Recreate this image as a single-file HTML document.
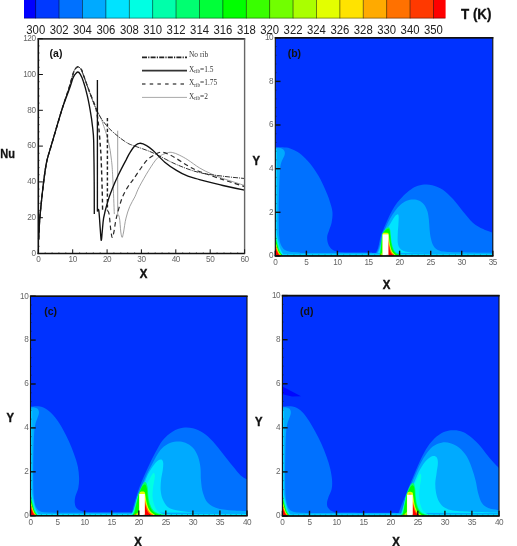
<!DOCTYPE html>
<html><head><meta charset="utf-8"><title>figure</title><style>html,body{margin:0;padding:0;background:#fff}svg{display:block}</style></head><body>
<svg width="517" height="546" viewBox="0 0 517 546">
<rect width="517" height="546" fill="#fff"/>
<rect x="24.0" y="0" width="12.0" height="18.3" fill="#0000ff"/>
<rect x="35.7" y="0" width="23.7" height="18.3" fill="#0039ff"/>
<rect x="59.1" y="0" width="23.7" height="18.3" fill="#0071ff"/>
<rect x="82.5" y="0" width="23.7" height="18.3" fill="#00aaff"/>
<rect x="105.9" y="0" width="23.7" height="18.3" fill="#00e3ff"/>
<rect x="129.3" y="0" width="23.7" height="18.3" fill="#00ffe3"/>
<rect x="152.7" y="0" width="23.7" height="18.3" fill="#00ffaa"/>
<rect x="176.1" y="0" width="23.7" height="18.3" fill="#00ff71"/>
<rect x="199.5" y="0" width="23.7" height="18.3" fill="#00ff39"/>
<rect x="222.9" y="0" width="23.7" height="18.3" fill="#00ff00"/>
<rect x="246.3" y="0" width="23.7" height="18.3" fill="#39ff00"/>
<rect x="269.7" y="0" width="23.7" height="18.3" fill="#71ff00"/>
<rect x="293.1" y="0" width="23.7" height="18.3" fill="#aaff00"/>
<rect x="316.5" y="0" width="23.7" height="18.3" fill="#e3ff00"/>
<rect x="339.9" y="0" width="23.7" height="18.3" fill="#ffe300"/>
<rect x="363.3" y="0" width="23.7" height="18.3" fill="#ffaa00"/>
<rect x="386.7" y="0" width="23.7" height="18.3" fill="#ff7100"/>
<rect x="410.1" y="0" width="23.7" height="18.3" fill="#ff3900"/>
<rect x="433.5" y="0" width="12.1" height="18.3" fill="#ff0000"/>
<rect x="35.2" y="0" width="0.9" height="18.3" fill="#000" opacity="0.55"/>
<rect x="58.6" y="0" width="0.9" height="18.3" fill="#000" opacity="0.55"/>
<rect x="82.0" y="0" width="0.9" height="18.3" fill="#000" opacity="0.55"/>
<rect x="105.4" y="0" width="0.9" height="18.3" fill="#000" opacity="0.55"/>
<rect x="128.9" y="0" width="0.9" height="18.3" fill="#000" opacity="0.55"/>
<rect x="152.2" y="0" width="0.9" height="18.3" fill="#000" opacity="0.55"/>
<rect x="175.6" y="0" width="0.9" height="18.3" fill="#000" opacity="0.55"/>
<rect x="199.1" y="0" width="0.9" height="18.3" fill="#000" opacity="0.55"/>
<rect x="222.4" y="0" width="0.9" height="18.3" fill="#000" opacity="0.55"/>
<rect x="245.9" y="0" width="0.9" height="18.3" fill="#000" opacity="0.55"/>
<rect x="269.2" y="0" width="0.9" height="18.3" fill="#000" opacity="0.55"/>
<rect x="292.6" y="0" width="0.9" height="18.3" fill="#000" opacity="0.55"/>
<rect x="316.0" y="0" width="0.9" height="18.3" fill="#000" opacity="0.55"/>
<rect x="339.4" y="0" width="0.9" height="18.3" fill="#000" opacity="0.55"/>
<rect x="362.8" y="0" width="0.9" height="18.3" fill="#000" opacity="0.55"/>
<rect x="386.2" y="0" width="0.9" height="18.3" fill="#000" opacity="0.55"/>
<rect x="409.6" y="0" width="0.9" height="18.3" fill="#000" opacity="0.55"/>
<rect x="433.0" y="0" width="0.9" height="18.3" fill="#000" opacity="0.55"/>
<rect x="24" y="17.7" width="421.3" height="0.8" fill="#000" opacity="0.5"/>
<g font-family="'Liberation Sans',sans-serif" font-size="12.8" fill="#222">
<text x="26.3" y="33.6" textLength="18.9" lengthAdjust="spacingAndGlyphs">300</text>
<text x="49.7" y="33.6" textLength="18.9" lengthAdjust="spacingAndGlyphs">302</text>
<text x="73.0" y="33.6" textLength="18.9" lengthAdjust="spacingAndGlyphs">304</text>
<text x="96.4" y="33.6" textLength="18.9" lengthAdjust="spacingAndGlyphs">306</text>
<text x="119.9" y="33.6" textLength="18.9" lengthAdjust="spacingAndGlyphs">308</text>
<text x="143.2" y="33.6" textLength="18.9" lengthAdjust="spacingAndGlyphs">310</text>
<text x="166.6" y="33.6" textLength="18.9" lengthAdjust="spacingAndGlyphs">312</text>
<text x="190.1" y="33.6" textLength="18.9" lengthAdjust="spacingAndGlyphs">314</text>
<text x="213.4" y="33.6" textLength="18.9" lengthAdjust="spacingAndGlyphs">316</text>
<text x="236.9" y="33.6" textLength="18.9" lengthAdjust="spacingAndGlyphs">318</text>
<text x="260.2" y="33.6" textLength="18.9" lengthAdjust="spacingAndGlyphs">320</text>
<text x="283.6" y="33.6" textLength="18.9" lengthAdjust="spacingAndGlyphs">322</text>
<text x="307.0" y="33.6" textLength="18.9" lengthAdjust="spacingAndGlyphs">324</text>
<text x="330.4" y="33.6" textLength="18.9" lengthAdjust="spacingAndGlyphs">326</text>
<text x="353.8" y="33.6" textLength="18.9" lengthAdjust="spacingAndGlyphs">328</text>
<text x="377.2" y="33.6" textLength="18.9" lengthAdjust="spacingAndGlyphs">330</text>
<text x="400.6" y="33.6" textLength="18.9" lengthAdjust="spacingAndGlyphs">340</text>
<text x="424.0" y="33.6" textLength="18.9" lengthAdjust="spacingAndGlyphs">350</text>
</g>
<text x="461" y="18.9" font-family="'Liberation Sans',sans-serif" font-weight="bold" font-size="14" textLength="30.5" lengthAdjust="spacingAndGlyphs" fill="#111" stroke="#111" stroke-width="0.3">T (K)</text>
<g fill="none" stroke-linejoin="round">
<path d="M38.6,239.2 C38.7,238.2 38.7,237.0 38.9,233.5 C39.1,229.9 39.3,223.8 39.8,218.1 C40.3,212.3 41.1,204.8 41.7,198.7 C42.4,192.6 42.9,187.4 43.7,181.4 C44.5,175.3 45.3,168.3 46.6,162.2 C47.8,156.2 48.9,153.7 51.4,145.0 C54.0,136.4 58.8,119.8 61.7,110.3 C64.6,100.8 67.0,94.2 68.9,88.3 C70.8,82.3 71.9,77.6 72.9,74.5 C73.9,71.4 73.9,70.9 74.7,69.7 C75.6,68.4 76.7,66.8 77.8,66.8 C78.9,66.8 80.4,68.1 81.3,69.5 C82.2,70.8 82.0,71.3 83.3,74.9 C84.7,78.4 87.2,85.7 89.2,91.0 C91.1,96.2 93.2,102.1 95.0,106.4 C96.9,110.6 98.9,113.8 100.2,116.6 C101.4,119.3 101.2,118.7 102.6,122.8 C104.0,126.9 106.9,135.0 108.4,141.3 C109.9,147.5 110.8,153.9 111.5,160.4 C112.3,166.9 112.4,171.2 112.9,180.1 C113.4,189.1 114.1,208.5 114.3,214.1 M117.7,130.7 L117.7,214.1 M117.7,214.1 C118.0,214.7 118.9,214.7 119.4,217.7 C120.0,220.7 120.4,228.7 120.8,232.0 C121.3,235.3 121.7,237.4 122.2,237.4 C122.6,237.4 122.9,235.2 123.6,232.0 C124.2,228.8 124.9,222.3 126.0,218.1 C127.0,213.8 128.3,210.0 129.8,206.4 C131.2,202.9 133.3,200.1 134.9,196.8 C136.5,193.4 137.1,190.9 139.4,186.6 C141.7,182.2 145.6,175.3 148.7,170.4 C151.8,165.6 154.8,160.5 157.9,157.6 C161.0,154.6 164.8,153.7 167.2,152.9 C169.6,152.1 170.4,152.2 172.4,152.5 C174.4,152.9 176.7,153.8 179.3,155.1 C181.8,156.3 184.5,157.7 187.9,159.9 C191.2,162.0 195.6,165.6 199.5,167.9 C203.4,170.3 207.3,172.1 211.2,173.8 C215.1,175.6 217.4,176.6 222.9,178.5 C228.5,180.4 241.0,184.3 244.6,185.5" stroke="#8f8f8f" stroke-width="0.85"/>
<path d="M38.6,239.2 C38.7,238.2 38.7,237.0 38.9,233.5 C39.1,229.9 39.3,223.8 39.8,218.1 C40.3,212.3 41.1,204.8 41.7,198.7 C42.4,192.6 42.9,187.4 43.7,181.4 C44.5,175.3 45.3,168.3 46.6,162.2 C47.8,156.2 48.9,153.7 51.4,145.0 C54.0,136.4 58.8,119.8 61.7,110.3 C64.6,100.8 67.0,94.2 68.9,88.3 C70.8,82.3 71.9,77.6 72.9,74.5 C73.9,71.4 73.9,70.9 74.7,69.7 C75.6,68.4 76.7,66.8 77.8,66.8 C78.9,66.8 80.4,68.1 81.3,69.5 C82.2,70.8 82.0,71.3 83.3,74.9 C84.7,78.4 87.2,85.8 89.2,91.0 C91.1,96.1 93.8,102.3 95.0,105.8 C96.3,109.3 96.1,108.5 96.7,112.1 C97.4,115.7 98.2,121.8 98.8,127.7 C99.4,133.5 100.0,141.5 100.4,147.0 C100.8,152.5 100.9,153.1 101.2,160.4 C101.5,167.7 102.0,182.5 102.2,190.8 C102.5,199.2 102.5,207.3 102.6,210.5" stroke="#222" stroke-width="1.4" stroke-dasharray="4 3"/>
<path d="M107.4,118.0 L107.4,210.5" stroke="#222" stroke-width="1.45" stroke-dasharray="3.2 2.2"/>
<path d="M107.4,210.5 C107.7,211.1 108.5,210.8 109.1,214.1 C109.7,217.4 110.3,226.4 110.8,230.2 C111.4,234.1 111.7,237.1 112.2,237.4 C112.7,237.7 113.2,235.2 113.9,232.0 C114.6,228.8 115.0,223.6 116.3,218.1 C117.7,212.5 120.0,203.9 121.8,198.7 C123.7,193.6 125.9,190.2 127.7,187.1 C129.5,184.0 130.9,182.9 132.8,180.1 C134.8,177.3 137.0,173.8 139.4,170.4 C141.8,167.1 144.6,162.6 147.3,159.9 C150.0,157.2 153.2,155.4 155.5,154.2 C157.9,152.9 159.1,152.1 161.4,152.2 C163.6,152.2 166.4,153.4 168.9,154.5 C171.5,155.6 173.4,156.8 176.5,158.6 C179.7,160.5 184.0,163.6 187.9,165.8 C191.7,167.9 193.7,169.2 199.5,171.5 C205.4,173.8 215.4,177.1 222.9,179.6 C230.4,182.1 241.0,185.4 244.6,186.6" stroke="#2a2a2a" stroke-width="1.2" stroke-dasharray="4.6 3.2"/>
<path d="M38.6,239.2 C38.7,238.2 38.7,237.0 38.9,233.5 C39.1,229.9 39.3,223.8 39.8,218.1 C40.3,212.3 41.1,204.8 41.7,198.7 C42.4,192.6 42.9,187.4 43.7,181.4 C44.5,175.3 45.3,168.3 46.6,162.2 C47.8,156.2 48.9,153.7 51.4,145.0 C54.0,136.4 58.8,119.8 61.7,110.3 C64.6,100.8 67.0,94.2 68.9,88.3 C70.8,82.3 71.9,77.6 72.9,74.5 C73.9,71.4 73.9,70.9 74.7,69.7 C75.6,68.4 76.7,66.8 77.8,66.8 C78.9,66.8 80.4,68.1 81.3,69.5 C82.2,70.8 82.0,71.3 83.3,74.9 C84.7,78.4 87.2,85.7 89.2,91.0 C91.1,96.2 93.1,101.9 95.0,106.4 C97.0,110.9 98.6,114.4 100.9,118.0 C103.1,121.5 105.6,124.6 108.4,127.7 C111.3,130.7 114.9,133.8 118.1,136.4 C121.3,139.0 124.9,141.6 127.7,143.2 C130.5,144.8 130.7,144.5 134.9,146.1 C139.1,147.7 146.2,149.8 153.1,152.9 C160.1,156.0 168.8,161.3 176.5,164.5 C184.2,167.8 191.8,170.7 199.5,172.6 C207.3,174.5 215.4,175.2 222.9,176.2 C230.4,177.2 241.0,178.1 244.6,178.5" stroke="#333" stroke-width="1" stroke-dasharray="5 1 1 1"/>
<path d="M38.6,239.2 C38.7,238.2 38.7,237.0 38.9,233.5 C39.1,229.9 39.3,223.8 39.8,218.1 C40.3,212.3 41.1,204.8 41.7,198.7 C42.4,192.6 42.9,187.4 43.7,181.4 C44.5,175.3 45.3,168.3 46.6,162.2 C47.8,156.2 48.9,153.7 51.4,145.0 C54.0,136.4 58.8,119.4 61.7,110.3 C64.6,101.2 67.0,95.6 68.9,90.3 C70.8,84.9 72.0,80.8 73.0,78.1 C74.1,75.4 74.5,75.2 75.3,74.1 C76.1,73.1 77.0,72.0 77.8,72.0 C78.7,72.0 79.3,72.6 80.2,74.1 C81.2,75.7 82.2,77.8 83.3,81.3 C84.5,84.8 86.0,90.1 87.1,94.9 C88.3,99.7 89.3,105.2 90.2,110.3 C91.1,115.4 91.9,120.5 92.4,125.7 C93.0,130.9 93.4,131.9 93.7,141.3 C93.9,150.6 94.1,169.8 94.2,181.9 C94.3,194.0 94.3,208.8 94.3,214.1 M97.4,79.9 L97.4,211.4 M97.4,211.4 C97.7,211.3 98.4,207.7 98.8,210.5 C99.3,213.4 99.8,223.5 100.2,228.4 C100.6,233.4 100.9,239.7 101.2,240.3 C101.6,240.9 101.8,235.7 102.2,232.0 C102.6,228.3 102.8,223.0 103.6,218.1 C104.5,213.2 106.0,207.5 107.4,202.7 C108.8,197.8 110.4,193.6 112.2,189.1 C114.0,184.5 115.8,180.3 118.1,175.5 C120.4,170.6 124.0,163.8 126.0,160.1 C127.9,156.3 128.3,155.3 129.8,152.9 C131.2,150.5 133.1,147.4 134.9,145.7 C136.7,144.1 138.5,143.3 140.4,143.2 C142.4,143.2 144.5,144.3 146.6,145.6 C148.7,146.8 150.1,147.8 153.1,150.6 C156.2,153.3 160.9,158.9 164.8,162.2 C168.7,165.5 172.7,168.1 176.5,170.4 C180.3,172.8 184.0,174.7 187.9,176.2 C191.7,177.7 193.7,178.0 199.5,179.6 C205.4,181.1 215.4,183.7 222.9,185.5 C230.4,187.2 241.0,189.4 244.6,190.1" stroke="#111" stroke-width="1.35"/>
</g>
<g stroke="#111" fill="none">
<path d="M38.3,254.1 V38.5" stroke-width="1.6"/>
<path d="M37.5,38.8 H245.2" stroke="#333" stroke-width="1.8"/>
<path d="M37.5,253.5 H245.1" stroke-width="1.3"/>
<path d="M244.6,38.5 V253.5" stroke="#666" stroke-width="1.4"/>
<path d="M38.3,253.5 v-4.2" stroke-width="1" opacity="1"/>
<path d="M45.2,253.5 v-1.4" stroke-width="1" opacity="0.45"/>
<path d="M52.1,253.5 v-1.4" stroke-width="1" opacity="0.45"/>
<path d="M58.9,253.5 v-1.4" stroke-width="1" opacity="0.45"/>
<path d="M65.8,253.5 v-1.4" stroke-width="1" opacity="0.45"/>
<path d="M72.7,253.5 v-4.2" stroke-width="1" opacity="1"/>
<path d="M79.6,253.5 v-1.4" stroke-width="1" opacity="0.45"/>
<path d="M86.4,253.5 v-1.4" stroke-width="1" opacity="0.45"/>
<path d="M93.3,253.5 v-1.4" stroke-width="1" opacity="0.45"/>
<path d="M100.2,253.5 v-1.4" stroke-width="1" opacity="0.45"/>
<path d="M107.1,253.5 v-4.2" stroke-width="1" opacity="1"/>
<path d="M113.9,253.5 v-1.4" stroke-width="1" opacity="0.45"/>
<path d="M120.8,253.5 v-1.4" stroke-width="1" opacity="0.45"/>
<path d="M127.7,253.5 v-1.4" stroke-width="1" opacity="0.45"/>
<path d="M134.6,253.5 v-1.4" stroke-width="1" opacity="0.45"/>
<path d="M141.4,253.5 v-4.2" stroke-width="1" opacity="1"/>
<path d="M148.3,253.5 v-1.4" stroke-width="1" opacity="0.45"/>
<path d="M155.2,253.5 v-1.4" stroke-width="1" opacity="0.45"/>
<path d="M162.1,253.5 v-1.4" stroke-width="1" opacity="0.45"/>
<path d="M168.9,253.5 v-1.4" stroke-width="1" opacity="0.45"/>
<path d="M175.8,253.5 v-4.2" stroke-width="1" opacity="1"/>
<path d="M182.7,253.5 v-1.4" stroke-width="1" opacity="0.45"/>
<path d="M189.6,253.5 v-1.4" stroke-width="1" opacity="0.45"/>
<path d="M196.4,253.5 v-1.4" stroke-width="1" opacity="0.45"/>
<path d="M203.3,253.5 v-1.4" stroke-width="1" opacity="0.45"/>
<path d="M210.2,253.5 v-4.2" stroke-width="1" opacity="1"/>
<path d="M217.1,253.5 v-1.4" stroke-width="1" opacity="0.45"/>
<path d="M224.0,253.5 v-1.4" stroke-width="1" opacity="0.45"/>
<path d="M230.8,253.5 v-1.4" stroke-width="1" opacity="0.45"/>
<path d="M237.7,253.5 v-1.4" stroke-width="1" opacity="0.45"/>
<path d="M244.6,253.5 v-4.2" stroke-width="1" opacity="1"/>
<path d="M38.3,253.5 h4.6" stroke-width="1" opacity="1"/>
<path d="M38.3,246.3 h1.6" stroke-width="1" opacity="0.45"/>
<path d="M38.3,239.2 h1.6" stroke-width="1" opacity="0.45"/>
<path d="M38.3,232.0 h1.6" stroke-width="1" opacity="0.45"/>
<path d="M38.3,224.9 h1.6" stroke-width="1" opacity="0.45"/>
<path d="M38.3,217.7 h4.6" stroke-width="1" opacity="1"/>
<path d="M38.3,210.5 h1.6" stroke-width="1" opacity="0.45"/>
<path d="M38.3,203.4 h1.6" stroke-width="1" opacity="0.45"/>
<path d="M38.3,196.2 h1.6" stroke-width="1" opacity="0.45"/>
<path d="M38.3,189.1 h1.6" stroke-width="1" opacity="0.45"/>
<path d="M38.3,181.9 h4.6" stroke-width="1" opacity="1"/>
<path d="M38.3,174.7 h1.6" stroke-width="1" opacity="0.45"/>
<path d="M38.3,167.6 h1.6" stroke-width="1" opacity="0.45"/>
<path d="M38.3,160.4 h1.6" stroke-width="1" opacity="0.45"/>
<path d="M38.3,153.3 h1.6" stroke-width="1" opacity="0.45"/>
<path d="M38.3,146.1 h4.6" stroke-width="1" opacity="1"/>
<path d="M38.3,138.9 h1.6" stroke-width="1" opacity="0.45"/>
<path d="M38.3,131.8 h1.6" stroke-width="1" opacity="0.45"/>
<path d="M38.3,124.6 h1.6" stroke-width="1" opacity="0.45"/>
<path d="M38.3,117.5 h1.6" stroke-width="1" opacity="0.45"/>
<path d="M38.3,110.3 h4.6" stroke-width="1" opacity="1"/>
<path d="M38.3,103.1 h1.6" stroke-width="1" opacity="0.45"/>
<path d="M38.3,96.0 h1.6" stroke-width="1" opacity="0.45"/>
<path d="M38.3,88.8 h1.6" stroke-width="1" opacity="0.45"/>
<path d="M38.3,81.7 h1.6" stroke-width="1" opacity="0.45"/>
<path d="M38.3,74.5 h4.6" stroke-width="1" opacity="1"/>
<path d="M38.3,67.3 h1.6" stroke-width="1" opacity="0.45"/>
<path d="M38.3,60.2 h1.6" stroke-width="1" opacity="0.45"/>
<path d="M38.3,53.0 h1.6" stroke-width="1" opacity="0.45"/>
<path d="M38.3,45.9 h1.6" stroke-width="1" opacity="0.45"/>
<path d="M38.3,38.7 h4.6" stroke-width="1" opacity="1"/>
</g>
<g font-family="'Liberation Sans',sans-serif" font-size="8.2" letter-spacing="-0.45" fill="#666">
<text x="38.3" y="262.3" text-anchor="middle">0</text>
<text x="72.7" y="262.3" text-anchor="middle">10</text>
<text x="107.1" y="262.3" text-anchor="middle">20</text>
<text x="141.4" y="262.3" text-anchor="middle">30</text>
<text x="175.8" y="262.3" text-anchor="middle">40</text>
<text x="210.2" y="262.3" text-anchor="middle">50</text>
<text x="244.6" y="262.3" text-anchor="middle">60</text>
<text x="35.5" y="255.8" text-anchor="end">0</text>
<text x="35.5" y="220.0" text-anchor="end">20</text>
<text x="35.5" y="184.2" text-anchor="end">40</text>
<text x="35.5" y="148.4" text-anchor="end">60</text>
<text x="35.5" y="112.6" text-anchor="end">80</text>
<text x="35.5" y="76.8" text-anchor="end">100</text>
<text x="35.5" y="41.0" text-anchor="end">120</text>
</g>
<text x="49.6" y="56.7" font-family="'Liberation Sans',sans-serif" font-weight="bold" font-size="10.5" fill="#111">(a)</text>
<path d="M142,57.4 H187" stroke="#222" stroke-width="1.8" stroke-dasharray="5 1.2 1.2 1.2" fill="none"/>
<path d="M142,70.6 H187" stroke="#333" stroke-width="1.7" fill="none"/>
<path d="M142,84.1 H187" stroke="#555" stroke-width="1.5" stroke-dasharray="3.5 4.2" fill="none"/>
<path d="M142,97.4 H187" stroke="#999" stroke-width="0.85" fill="none"/>
<g font-family="'Liberation Serif',serif" font-size="7.4" fill="#333">
<text x="189" y="56.9">No rib</text>
<text x="189" y="71.8">X<tspan font-size="5.2" dy="1.3">rib</tspan><tspan dy="-1.3">=1.5</tspan></text>
<text x="189" y="85.3">X<tspan font-size="5.2" dy="1.3">rib</tspan><tspan dy="-1.3">=1.75</tspan></text>
<text x="189" y="98.6">X<tspan font-size="5.2" dy="1.3">rib</tspan><tspan dy="-1.3">=2</tspan></text>
</g>
<text x="0.3" y="157.6" font-family="'Liberation Sans',sans-serif" font-weight="bold" font-size="13.2" textLength="14.7" lengthAdjust="spacingAndGlyphs" fill="#111" stroke="#111" stroke-width="0.3">Nu</text>
<text x="139.8" y="277.8" font-family="'Liberation Sans',sans-serif" font-weight="bold" font-size="13.4" textLength="7.6" lengthAdjust="spacingAndGlyphs" fill="#111" stroke="#111" stroke-width="0.45">X</text>
<clipPath id="clipb"><rect x="275.3" y="37.8" width="217.5" height="218.1"/></clipPath>
<rect x="275.3" y="37.8" width="217.5" height="218.1" fill="#0032ff"/>
<g clip-path="url(#clipb)">
<path d="M275.3,147.2 C276.5,147.2 280.1,147.1 282.6,147.3 C285.1,147.5 287.6,147.6 290.1,148.4 C292.6,149.2 295.2,150.3 297.7,151.9 C300.2,153.5 302.7,155.7 305.2,158.2 C307.7,160.7 310.2,163.5 312.7,167.0 C315.2,170.5 318.0,174.7 320.3,179.0 C322.6,183.3 324.9,188.8 326.6,192.8 C328.3,196.8 329.3,199.6 330.3,202.9 C331.3,206.2 332.3,209.3 332.5,212.6 C332.7,215.9 332.2,219.8 331.6,222.7 C331.0,225.6 329.8,227.9 329.1,230.2 C328.4,232.5 327.4,234.4 327.2,236.5 C327.0,238.6 327.3,240.9 327.8,242.8 C328.3,244.7 329.1,246.4 330.3,247.8 C331.5,249.2 332.6,250.2 335.0,251.0 C337.4,251.8 338.8,252.1 345.0,252.4 C351.2,252.7 367.5,252.6 372.0,252.6 L372.0,256.0 L275.3,256.0Z" fill="#0071ff"/>
<path d="M275.3,147.8 C276.1,147.8 278.7,147.8 280.0,148.0 C281.3,148.2 282.2,148.6 283.0,149.2 C283.8,149.8 284.3,150.7 284.6,151.5 C284.9,152.3 284.9,153.1 284.8,154.0 C284.7,154.9 284.3,155.9 283.8,157.0 C283.3,158.1 282.5,159.2 282.0,160.5 C281.5,161.8 281.0,163.0 280.6,165.0 C280.2,167.0 280.0,169.5 279.8,172.7 C279.6,175.9 279.5,179.9 279.3,184.0 C279.1,188.1 279.0,192.7 278.9,197.0 C278.8,201.3 278.7,205.3 278.7,210.0 C278.7,214.7 278.7,220.3 278.8,225.0 C278.9,229.7 278.9,234.5 279.4,238.0 C279.8,241.5 280.2,243.8 281.5,246.0 C282.8,248.2 283.9,249.9 287.0,251.0 C290.1,252.1 297.8,252.2 300.0,252.5 L300.0,256.0 L275.3,256.0Z" fill="#00aaff"/>
<rect x="275.3" y="149" width="1.7" height="108" fill="#00d0ff"/>
<path d="M374.3,255.5 C374.9,254.4 376.9,251.1 377.8,248.7 C378.7,246.3 379.1,243.1 379.6,241.0 C380.1,238.9 380.2,237.9 380.8,235.9 C381.4,233.9 382.4,231.9 383.5,229.2 C384.6,226.5 386.1,222.9 387.6,219.7 C389.1,216.5 390.7,213.0 392.3,210.2 C393.9,207.4 395.4,205.1 397.1,202.8 C398.8,200.6 400.5,198.7 402.5,196.7 C404.5,194.7 407.1,192.3 409.3,190.6 C411.6,188.9 413.5,187.5 416.0,186.5 C418.5,185.5 421.5,184.7 424.2,184.5 C426.9,184.3 429.2,184.3 432.3,185.2 C435.4,186.1 439.4,187.4 442.9,189.7 C446.3,192.0 449.6,195.4 453.0,199.0 C456.4,202.6 459.6,207.5 463.0,211.5 C466.4,215.5 469.7,220.0 473.1,222.9 C476.5,225.8 479.9,227.4 483.2,229.1 C486.5,230.8 491.4,232.3 493.0,232.9 L493.0,257.0 L374.3,257.0Z" fill="#0071ff"/>
<path d="M375.5,255.5 C376.1,254.4 377.9,251.1 378.8,248.7 C379.7,246.3 380.4,243.2 381.0,241.0 C381.6,238.8 381.4,237.9 382.3,235.5 C383.2,233.1 384.9,229.3 386.2,226.4 C387.5,223.5 388.8,220.9 390.3,218.3 C391.8,215.7 393.3,213.2 395.0,210.9 C396.7,208.7 398.6,206.5 400.5,204.8 C402.4,203.1 404.5,201.6 406.6,200.7 C408.7,199.8 411.2,199.4 413.3,199.4 C415.4,199.4 417.6,199.8 419.4,200.7 C421.2,201.6 422.8,203.0 424.2,204.8 C425.6,206.6 426.7,209.1 427.5,211.6 C428.3,214.1 428.5,216.8 428.9,219.7 C429.2,222.6 429.3,226.0 429.6,229.2 C429.9,232.3 430.3,236.0 430.9,238.6 C431.5,241.2 432.0,243.2 433.0,245.0 C434.0,246.8 434.9,248.4 437.0,249.5 C439.1,250.6 439.8,251.3 445.4,251.8 C451.0,252.3 462.7,252.3 470.6,252.5 C478.5,252.7 489.3,252.8 493.0,252.8 L493.0,257.0 L375.5,257.0Z" fill="#00aaff"/>
<path d="M376.5,255.5 C377.1,254.4 378.9,251.1 379.8,248.7 C380.7,246.3 381.2,243.3 381.8,241.0 C382.4,238.7 382.6,236.6 383.5,234.6 C384.4,232.6 385.8,231.0 386.9,229.2 C388.0,227.4 389.1,225.7 390.3,223.7 C391.6,221.7 393.1,218.6 394.4,217.0 C395.6,215.4 397.1,214.3 397.8,214.3 C398.5,214.3 398.6,215.2 398.7,217.0 C398.8,218.8 398.5,222.4 398.4,225.1 C398.2,227.8 397.9,230.2 397.8,233.2 C397.7,236.2 397.4,240.4 397.8,243.0 C398.2,245.6 398.9,247.5 400.5,249.0 C402.1,250.5 403.6,251.3 407.7,252.0 C411.8,252.7 410.8,252.7 425.0,252.9 C439.2,253.1 481.7,253.2 493.0,253.3 L493.0,257.0 L376.5,257.0Z" fill="#00e3ff"/>
<rect x="275.3" y="252.9" width="217.5" height="3" fill="#00aaff"/>
<rect x="275.3" y="254.2" width="217.5" height="1.6" fill="#00e3ff"/>
<path d="M275.3,225.9 C275.8,228.2 277.1,235.5 278.0,239.4 C278.9,243.3 279.5,246.6 280.5,249.3 C281.6,252.1 283.7,254.8 284.3,255.9 L275.3,255.9Z" fill="#00e3ff"/>
<path d="M275.3,231.9 C275.7,233.7 276.9,239.6 277.7,242.7 C278.5,245.8 279.0,248.4 279.9,250.6 C280.9,252.8 282.7,255.0 283.3,255.9 L275.3,255.9Z" fill="#00ffaa"/>
<path d="M275.3,236.4 C275.7,237.9 276.8,242.6 277.5,245.2 C278.2,247.7 278.6,249.8 279.5,251.6 C280.3,253.4 282.0,255.2 282.5,255.9 L275.3,255.9Z" fill="#00ff00"/>
<path d="M275.3,240.9 C275.6,242.0 276.6,245.7 277.2,247.7 C277.8,249.6 278.3,251.2 279.0,252.6 C279.8,254.0 281.3,255.3 281.7,255.9 L275.3,255.9Z" fill="#e3ff00"/>
<path d="M275.3,243.9 C275.6,244.8 276.5,247.7 277.0,249.3 C277.6,250.9 278.0,252.2 278.7,253.3 C279.3,254.4 280.7,255.5 281.1,255.9 L275.3,255.9Z" fill="#ff7100"/>
<path d="M275.3,246.9 C275.6,247.6 276.4,249.8 276.9,251.0 C277.4,252.1 277.7,253.1 278.3,253.9 C278.9,254.7 280.1,255.6 280.5,255.9 L275.3,255.9Z" fill="#ff0000"/>
<path d="M379.3,255.9 C379.5,255.2 380.0,253.2 380.2,251.5 C380.5,249.8 380.7,247.6 380.9,245.6 C381.1,243.7 381.3,241.6 381.6,239.8 C381.8,237.9 381.9,235.8 382.2,234.4 C382.5,233.0 382.9,232.6 383.6,231.5 C384.3,230.5 385.7,228.7 386.6,228.0 C387.5,227.4 388.5,227.0 389.2,227.4 C389.8,227.8 390.1,229.0 390.4,230.5 C390.7,232.0 390.6,234.0 390.9,236.4 C391.2,238.7 391.5,242.2 392.2,244.7 C392.8,247.1 393.6,249.6 394.8,251.2 C396.0,252.8 397.4,253.6 399.4,254.3 C401.4,255.1 405.5,255.6 406.7,255.9Z" fill="#00ff71"/>
<path d="M379.8,255.9 C379.9,255.2 380.3,253.6 380.5,252.0 C380.8,250.4 381.0,248.1 381.2,246.1 C381.4,244.2 381.6,242.1 381.8,240.3 C382.0,238.4 382.0,236.3 382.4,234.9 C382.7,233.5 383.3,232.9 384.0,232.0 C384.7,231.1 385.8,229.8 386.6,229.3 C387.4,228.8 388.3,228.5 388.8,228.8 C389.4,229.1 389.6,229.8 389.9,231.1 C390.1,232.4 390.1,234.1 390.4,236.4 C390.6,238.6 390.9,242.1 391.5,244.7 C392.1,247.2 392.9,249.8 394.0,251.5 C395.1,253.2 396.3,253.9 398.0,254.6 C399.6,255.4 402.9,255.7 403.9,255.9Z" fill="#00ff00"/>
<path d="M382.5,235.9 C382.6,235.4 382.5,233.8 383.0,233.3 C383.5,232.8 384.6,232.8 385.5,232.8 C386.4,232.7 387.6,232.8 388.2,233.2 C388.8,233.6 388.5,233.5 388.8,235.4 C389.1,237.2 389.4,241.5 389.9,244.2 C390.5,246.9 391.1,249.5 392.2,251.5 C393.4,253.5 395.9,255.2 396.6,255.9 L382.4,255.9Z" fill="#e3ff00"/>
<path d="M388.2,238.3 C388.4,239.4 388.8,242.9 389.4,245.2 C389.9,247.4 390.5,250.2 391.5,252.0 C392.4,253.8 394.6,255.2 395.2,255.9 L388.2,255.9Z" fill="#ff7100"/>
<path d="M388.2,240.8 C388.3,241.6 388.6,244.2 389.0,246.1 C389.4,248.1 389.8,250.9 390.6,252.5 C391.4,254.1 393.3,255.3 393.8,255.9 L388.2,255.9Z" fill="#ff0000"/>
<path d="M379.9,255.9 L382.6,251.7 L382.6,255.9 Z" fill="#aaff00"/>
<path d="M380.1,255.9 L381.2,253.7 L381.2,255.9 Z" fill="#ff3900"/>
<rect x="382.6" y="234.4" width="5.8" height="21.8" fill="#fff"/>
</g>
<g stroke="#111" fill="none">
<rect x="275.3" y="37.8" width="217.5" height="218.1" stroke-width="1.1"/>
<path d="M274.7,255.9 H493.4" stroke-width="1.45"/>
<path d="M274.7,37.8 H493.4" stroke-width="1.6"/>
<path d="M275.3,255.9 v-5.2" stroke-width="1.4" opacity="1"/>
<path d="M281.5,255.9 v-1.4" stroke-width="0.8" opacity="0.4"/>
<path d="M287.7,255.9 v-1.4" stroke-width="0.8" opacity="0.4"/>
<path d="M293.9,255.9 v-1.4" stroke-width="0.8" opacity="0.4"/>
<path d="M300.2,255.9 v-1.4" stroke-width="0.8" opacity="0.4"/>
<path d="M306.4,255.9 v-5.2" stroke-width="1.4" opacity="1"/>
<path d="M312.6,255.9 v-1.4" stroke-width="0.8" opacity="0.4"/>
<path d="M318.8,255.9 v-1.4" stroke-width="0.8" opacity="0.4"/>
<path d="M325.0,255.9 v-1.4" stroke-width="0.8" opacity="0.4"/>
<path d="M331.2,255.9 v-1.4" stroke-width="0.8" opacity="0.4"/>
<path d="M337.4,255.9 v-5.2" stroke-width="1.4" opacity="1"/>
<path d="M343.7,255.9 v-1.4" stroke-width="0.8" opacity="0.4"/>
<path d="M349.9,255.9 v-1.4" stroke-width="0.8" opacity="0.4"/>
<path d="M356.1,255.9 v-1.4" stroke-width="0.8" opacity="0.4"/>
<path d="M362.3,255.9 v-1.4" stroke-width="0.8" opacity="0.4"/>
<path d="M368.5,255.9 v-5.2" stroke-width="1.4" opacity="1"/>
<path d="M374.7,255.9 v-1.4" stroke-width="0.8" opacity="0.4"/>
<path d="M380.9,255.9 v-1.4" stroke-width="0.8" opacity="0.4"/>
<path d="M387.2,255.9 v-1.4" stroke-width="0.8" opacity="0.4"/>
<path d="M393.4,255.9 v-1.4" stroke-width="0.8" opacity="0.4"/>
<path d="M399.6,255.9 v-5.2" stroke-width="1.4" opacity="1"/>
<path d="M405.8,255.9 v-1.4" stroke-width="0.8" opacity="0.4"/>
<path d="M412.0,255.9 v-1.4" stroke-width="0.8" opacity="0.4"/>
<path d="M418.2,255.9 v-1.4" stroke-width="0.8" opacity="0.4"/>
<path d="M424.4,255.9 v-1.4" stroke-width="0.8" opacity="0.4"/>
<path d="M430.7,255.9 v-5.2" stroke-width="1.4" opacity="1"/>
<path d="M436.9,255.9 v-1.4" stroke-width="0.8" opacity="0.4"/>
<path d="M443.1,255.9 v-1.4" stroke-width="0.8" opacity="0.4"/>
<path d="M449.3,255.9 v-1.4" stroke-width="0.8" opacity="0.4"/>
<path d="M455.5,255.9 v-1.4" stroke-width="0.8" opacity="0.4"/>
<path d="M461.7,255.9 v-5.2" stroke-width="1.4" opacity="1"/>
<path d="M467.9,255.9 v-1.4" stroke-width="0.8" opacity="0.4"/>
<path d="M474.2,255.9 v-1.4" stroke-width="0.8" opacity="0.4"/>
<path d="M480.4,255.9 v-1.4" stroke-width="0.8" opacity="0.4"/>
<path d="M486.6,255.9 v-1.4" stroke-width="0.8" opacity="0.4"/>
<path d="M492.8,255.9 v-5.2" stroke-width="1.4" opacity="1"/>
<path d="M275.3,255.9 h5.2" stroke-width="1.4" opacity="1"/>
<path d="M275.3,247.2 h1.4" stroke-width="1" opacity="0.35"/>
<path d="M275.3,238.5 h1.4" stroke-width="1" opacity="0.35"/>
<path d="M275.3,229.7 h1.4" stroke-width="1" opacity="0.35"/>
<path d="M275.3,221.0 h1.4" stroke-width="1" opacity="0.35"/>
<path d="M275.3,212.3 h5.2" stroke-width="1.4" opacity="1"/>
<path d="M275.3,203.6 h1.4" stroke-width="1" opacity="0.35"/>
<path d="M275.3,194.8 h1.4" stroke-width="1" opacity="0.35"/>
<path d="M275.3,186.1 h1.4" stroke-width="1" opacity="0.35"/>
<path d="M275.3,177.4 h1.4" stroke-width="1" opacity="0.35"/>
<path d="M275.3,168.7 h5.2" stroke-width="1.4" opacity="1"/>
<path d="M275.3,159.9 h1.4" stroke-width="1" opacity="0.35"/>
<path d="M275.3,151.2 h1.4" stroke-width="1" opacity="0.35"/>
<path d="M275.3,142.5 h1.4" stroke-width="1" opacity="0.35"/>
<path d="M275.3,133.8 h1.4" stroke-width="1" opacity="0.35"/>
<path d="M275.3,125.0 h5.2" stroke-width="1.4" opacity="1"/>
<path d="M275.3,116.3 h1.4" stroke-width="1" opacity="0.35"/>
<path d="M275.3,107.6 h1.4" stroke-width="1" opacity="0.35"/>
<path d="M275.3,98.9 h1.4" stroke-width="1" opacity="0.35"/>
<path d="M275.3,90.1 h1.4" stroke-width="1" opacity="0.35"/>
<path d="M275.3,81.4 h5.2" stroke-width="1.4" opacity="1"/>
<path d="M275.3,72.7 h1.4" stroke-width="1" opacity="0.35"/>
<path d="M275.3,64.0 h1.4" stroke-width="1" opacity="0.35"/>
<path d="M275.3,55.2 h1.4" stroke-width="1" opacity="0.35"/>
<path d="M275.3,46.5 h1.4" stroke-width="1" opacity="0.35"/>
<path d="M275.3,37.8 h5.2" stroke-width="1.4" opacity="1"/>
</g>
<g font-family="'Liberation Sans',sans-serif" font-size="8.2" letter-spacing="-0.45" fill="#666">
<text x="275.3" y="265.3" text-anchor="middle">0</text>
<text x="306.4" y="265.3" text-anchor="middle">5</text>
<text x="337.4" y="265.3" text-anchor="middle">10</text>
<text x="368.5" y="265.3" text-anchor="middle">15</text>
<text x="399.6" y="265.3" text-anchor="middle">20</text>
<text x="430.7" y="265.3" text-anchor="middle">25</text>
<text x="461.7" y="265.3" text-anchor="middle">30</text>
<text x="492.8" y="265.3" text-anchor="middle">35</text>
<text x="273.1" y="258.2" text-anchor="end">0</text>
<text x="273.1" y="214.6" text-anchor="end">2</text>
<text x="273.1" y="171.0" text-anchor="end">4</text>
<text x="273.1" y="127.3" text-anchor="end">6</text>
<text x="273.1" y="83.7" text-anchor="end">8</text>
<text x="273.1" y="40.1" text-anchor="end">10</text>
</g>
<text x="287.7" y="56.7" font-family="'Liberation Sans',sans-serif" font-weight="bold" font-size="10.5" fill="#111">(b)</text>
<text x="382.7" y="288.9" font-family="'Liberation Sans',sans-serif" font-weight="bold" font-size="13.4" textLength="7.6" lengthAdjust="spacingAndGlyphs" fill="#111" stroke="#111" stroke-width="0.45">X</text>
<text x="252.6" y="165.3" font-family="'Liberation Sans',sans-serif" font-weight="bold" font-size="13.4" textLength="7.5" lengthAdjust="spacingAndGlyphs" fill="#111" stroke="#111" stroke-width="0.45">Y</text>
<clipPath id="clipc"><rect x="30.5" y="296.2" width="216.5" height="219.5"/></clipPath>
<rect x="30.5" y="296.2" width="216.5" height="219.5" fill="#0032ff"/>
<g clip-path="url(#clipc)">
<path d="M30.5,406.6 C32.1,406.6 37.2,406.0 40.1,406.6 C43.0,407.2 45.1,408.3 47.6,410.1 C50.1,411.9 52.7,414.5 55.2,417.6 C57.7,420.7 60.4,424.9 62.7,428.9 C65.0,432.9 67.1,437.3 69.0,441.5 C70.9,445.7 72.5,449.9 74.0,454.1 C75.5,458.3 77.0,462.6 77.8,466.6 C78.6,470.6 79.0,474.3 79.1,477.9 C79.2,481.5 78.9,484.9 78.3,488.0 C77.7,491.1 75.9,494.3 75.3,496.8 C74.7,499.3 74.6,501.2 74.8,503.1 C75.0,505.0 75.4,506.8 76.5,508.1 C77.6,509.4 79.3,510.4 81.6,511.1 C83.9,511.8 82.2,512.1 90.4,512.4 C98.6,512.6 123.9,512.6 130.6,512.6 L130.6,517.0 L30.5,517.0Z" fill="#0071ff"/>
<path d="M30.5,407.2 C31.2,407.2 33.4,407.2 34.5,407.4 C35.6,407.6 36.6,408.0 37.3,408.6 C38.0,409.2 38.5,410.1 38.8,411.0 C39.0,411.9 39.0,413.0 38.8,414.0 C38.6,415.0 38.2,415.8 37.8,417.0 C37.4,418.2 36.8,419.5 36.3,421.0 C35.8,422.5 35.4,423.8 35.0,426.0 C34.6,428.2 34.3,430.7 34.1,434.0 C33.9,437.3 33.7,441.7 33.6,446.0 C33.5,450.3 33.4,455.2 33.3,460.0 C33.2,464.8 33.2,470.0 33.2,475.0 C33.2,480.0 33.2,485.8 33.4,490.0 C33.6,494.2 33.7,497.0 34.2,500.0 C34.7,503.0 35.2,506.0 36.5,508.0 C37.8,510.0 38.9,511.2 42.0,512.0 C45.1,512.8 52.8,512.8 55.0,513.0 L55.0,517.0 L30.5,517.0Z" fill="#00aaff"/>
<rect x="30.5" y="409" width="1.7" height="108" fill="#00d0ff"/>
<path d="M131.3,515.4 C131.9,512.9 133.6,505.6 135.1,500.6 C136.6,495.6 138.0,490.9 140.1,485.5 C142.2,480.1 145.2,473.3 147.7,467.9 C150.2,462.4 152.7,457.4 155.2,452.8 C157.7,448.2 159.8,443.8 162.7,440.2 C165.6,436.6 169.4,433.5 172.8,431.4 C176.2,429.3 179.6,428.2 182.9,427.7 C186.2,427.2 189.6,427.4 192.9,428.2 C196.2,429.0 199.7,430.5 203.0,432.7 C206.3,434.9 209.7,437.9 213.0,441.5 C216.3,445.1 219.8,449.9 223.1,454.1 C226.4,458.3 230.2,463.1 233.1,466.6 C236.0,470.2 238.3,473.2 240.7,475.4 C243.1,477.6 246.4,478.9 247.5,479.6 L247.5,517.0 L131.3,517.0Z" fill="#0071ff"/>
<path d="M133.8,515.4 C134.7,512.1 137.0,501.8 138.9,495.5 C140.8,489.2 142.8,483.3 145.1,477.9 C147.4,472.5 150.2,467.5 152.7,462.9 C155.2,458.3 157.7,453.4 160.2,450.3 C162.7,447.2 165.1,445.5 167.8,444.0 C170.5,442.5 173.7,441.7 176.6,441.5 C179.5,441.3 182.7,441.6 185.4,442.7 C188.1,443.8 190.8,445.5 192.9,447.8 C195.0,450.1 196.7,453.2 198.0,456.6 C199.3,460.0 200.0,463.9 200.5,467.9 C201.0,471.9 200.6,476.3 201.0,480.5 C201.4,484.7 201.8,489.2 203.0,493.0 C204.2,496.8 205.5,500.5 208.0,503.1 C210.5,505.7 213.9,507.4 218.1,508.6 C222.3,509.9 228.2,510.2 233.1,510.6 C238.0,511.0 245.1,511.0 247.5,511.1 L247.5,517.0 L133.8,517.0Z" fill="#00aaff"/>
<path d="M136.3,515.4 C137.2,511.7 139.7,499.2 141.4,493.0 C143.1,486.8 144.5,482.3 146.4,477.9 C148.3,473.5 150.8,469.5 152.7,466.6 C154.6,463.8 156.2,462.0 157.7,460.8 C159.2,459.6 160.6,459.2 161.5,459.6 C162.4,460.0 163.0,461.1 163.2,462.9 C163.4,464.7 163.1,467.5 162.7,470.4 C162.3,473.3 161.3,477.1 161.0,480.5 C160.7,483.9 160.4,487.4 160.7,490.5 C161.0,493.6 161.5,496.6 162.7,499.3 C163.9,502.0 165.3,505.0 167.8,506.9 C170.3,508.8 173.2,509.7 177.8,510.6 C182.4,511.5 183.8,512.0 195.4,512.4 C207.0,512.8 238.8,513.1 247.5,513.2 L247.5,517.0 L136.3,517.0Z" fill="#00e3ff"/>
<rect x="30.5" y="512.7" width="216.5" height="3" fill="#00aaff"/>
<rect x="30.5" y="514.0" width="216.5" height="1.6" fill="#00e3ff"/>
<path d="M30.5,485.7 C30.9,488.0 32.3,495.3 33.2,499.2 C34.1,503.1 34.7,506.4 35.7,509.1 C36.8,511.9 38.9,514.6 39.5,515.7 L30.5,515.7Z" fill="#00e3ff"/>
<path d="M30.5,491.7 C30.9,493.5 32.1,499.4 32.9,502.5 C33.7,505.6 34.2,508.2 35.1,510.4 C36.1,512.6 37.9,514.8 38.5,515.7 L30.5,515.7Z" fill="#00ffaa"/>
<path d="M30.5,496.2 C30.9,497.7 32.0,502.4 32.7,505.0 C33.4,507.5 33.8,509.6 34.7,511.4 C35.5,513.2 37.2,515.0 37.7,515.7 L30.5,515.7Z" fill="#00ff00"/>
<path d="M30.5,500.7 C30.8,501.8 31.8,505.5 32.4,507.5 C33.0,509.4 33.5,511.0 34.2,512.4 C35.0,513.8 36.5,515.2 36.9,515.7 L30.5,515.7Z" fill="#e3ff00"/>
<path d="M30.5,503.7 C30.8,504.6 31.7,507.5 32.2,509.1 C32.8,510.7 33.2,512.0 33.9,513.1 C34.5,514.2 35.9,515.3 36.3,515.7 L30.5,515.7Z" fill="#ff7100"/>
<path d="M30.5,506.7 C30.8,507.4 31.6,509.6 32.1,510.8 C32.6,511.9 32.9,512.9 33.5,513.7 C34.1,514.5 35.3,515.4 35.7,515.7 L30.5,515.7Z" fill="#ff0000"/>
<path d="M130.8,515.7 C131.2,514.9 132.6,512.7 133.3,510.8 C134.1,508.8 134.6,506.2 135.3,503.9 C136.0,501.6 136.5,499.1 137.3,497.0 C138.1,494.8 138.9,492.8 140.2,491.0 C141.5,489.2 143.6,487.9 145.1,486.0 C146.6,484.1 148.0,481.7 149.2,479.7 C150.4,477.7 151.7,475.1 152.5,474.0 C153.3,472.9 153.5,472.8 153.9,473.0 C154.3,473.2 154.7,474.1 154.8,475.0 C154.9,475.9 154.9,476.5 154.6,478.4 C154.3,480.3 153.6,483.6 153.2,486.5 C152.9,489.4 152.4,493.1 152.5,496.0 C152.6,498.9 153.1,501.5 153.9,504.0 C154.7,506.4 155.7,509.0 157.3,510.7 C158.9,512.3 161.0,513.2 163.4,513.9 C165.8,514.6 168.1,514.6 171.5,514.9 C174.9,515.2 181.9,515.6 184.0,515.7Z" fill="#00ffe3"/>
<path d="M132.0,515.7 C132.3,515.0 133.4,513.0 134.0,511.3 C134.6,509.5 135.0,507.3 135.5,505.3 C136.0,503.4 136.5,501.3 137.0,499.4 C137.5,497.5 137.9,495.7 138.4,494.0 C138.9,492.3 139.5,491.0 140.2,489.2 C141.0,487.4 142.2,484.5 143.1,483.4 C144.0,482.3 145.1,481.7 145.9,482.4 C146.7,483.1 147.3,485.2 147.7,487.5 C148.1,489.8 148.0,493.2 148.4,496.0 C148.8,498.8 149.3,501.9 150.2,504.4 C151.1,506.9 152.3,509.3 154.0,511.0 C155.7,512.6 157.7,513.3 160.5,514.1 C163.3,514.9 169.2,515.4 171.0,515.7Z" fill="#00ff71"/>
<path d="M133.0,515.7 C133.3,515.0 134.2,513.4 134.7,511.8 C135.2,510.1 135.6,507.8 136.1,505.8 C136.6,503.9 137.1,501.8 137.5,499.9 C137.9,498.0 138.3,496.1 138.8,494.5 C139.3,492.8 139.9,491.5 140.6,490.0 C141.3,488.5 142.3,486.4 143.1,485.5 C143.9,484.6 144.8,484.2 145.4,484.7 C146.0,485.2 146.5,486.6 146.9,488.5 C147.3,490.4 147.2,493.3 147.6,496.0 C148.0,498.6 148.3,501.8 149.2,504.4 C150.1,506.9 151.2,509.6 152.8,511.3 C154.4,512.9 156.1,513.7 158.5,514.4 C160.9,515.2 165.6,515.5 167.0,515.7Z" fill="#00ff00"/>
<path d="M139.1,495.5 C139.2,495.0 139.2,493.0 139.7,492.4 C140.2,491.8 141.2,491.6 142.1,491.6 C142.9,491.6 144.1,491.7 144.6,492.2 C145.2,492.8 145.0,493.0 145.4,495.0 C145.8,496.9 146.2,501.2 147.0,503.9 C147.8,506.6 148.7,509.3 150.3,511.3 C151.9,513.2 155.5,515.0 156.5,515.7 L139.1,515.7Z" fill="#e3ff00"/>
<path d="M144.6,497.9 C144.9,499.1 145.4,502.5 146.2,504.9 C147.0,507.2 147.8,509.9 149.2,511.8 C150.6,513.6 153.6,515.0 154.5,515.7 L144.6,515.7Z" fill="#ff7100"/>
<path d="M144.6,500.4 C144.8,501.3 145.0,503.9 145.6,505.8 C146.2,507.8 146.8,510.6 148.0,512.2 C149.2,513.9 151.8,515.1 152.5,515.7 L144.6,515.7Z" fill="#ff0000"/>
<path d="M133.3,515.7 L139.3,511.5 L139.3,515.7 Z" fill="#aaff00"/>
<path d="M133.7,515.7 L136.1,513.5 L136.1,515.7 Z" fill="#ff3900"/>
<rect x="139.3" y="494.0" width="5.5" height="22.0" fill="#fff"/>
</g>
<g stroke="#111" fill="none">
<rect x="30.5" y="296.2" width="216.5" height="219.5" stroke-width="1.1"/>
<path d="M29.9,515.7 H247.6" stroke-width="1.45"/>
<path d="M29.9,296.2 H247.6" stroke-width="1.6"/>
<path d="M30.5,515.7 v-5.2" stroke-width="1.4" opacity="1"/>
<path d="M35.9,515.7 v-1.4" stroke-width="0.8" opacity="0.4"/>
<path d="M41.3,515.7 v-1.4" stroke-width="0.8" opacity="0.4"/>
<path d="M46.7,515.7 v-1.4" stroke-width="0.8" opacity="0.4"/>
<path d="M52.1,515.7 v-1.4" stroke-width="0.8" opacity="0.4"/>
<path d="M57.6,515.7 v-5.2" stroke-width="1.4" opacity="1"/>
<path d="M63.0,515.7 v-1.4" stroke-width="0.8" opacity="0.4"/>
<path d="M68.4,515.7 v-1.4" stroke-width="0.8" opacity="0.4"/>
<path d="M73.8,515.7 v-1.4" stroke-width="0.8" opacity="0.4"/>
<path d="M79.2,515.7 v-1.4" stroke-width="0.8" opacity="0.4"/>
<path d="M84.6,515.7 v-5.2" stroke-width="1.4" opacity="1"/>
<path d="M90.0,515.7 v-1.4" stroke-width="0.8" opacity="0.4"/>
<path d="M95.4,515.7 v-1.4" stroke-width="0.8" opacity="0.4"/>
<path d="M100.9,515.7 v-1.4" stroke-width="0.8" opacity="0.4"/>
<path d="M106.3,515.7 v-1.4" stroke-width="0.8" opacity="0.4"/>
<path d="M111.7,515.7 v-5.2" stroke-width="1.4" opacity="1"/>
<path d="M117.1,515.7 v-1.4" stroke-width="0.8" opacity="0.4"/>
<path d="M122.5,515.7 v-1.4" stroke-width="0.8" opacity="0.4"/>
<path d="M127.9,515.7 v-1.4" stroke-width="0.8" opacity="0.4"/>
<path d="M133.3,515.7 v-1.4" stroke-width="0.8" opacity="0.4"/>
<path d="M138.8,515.7 v-5.2" stroke-width="1.4" opacity="1"/>
<path d="M144.2,515.7 v-1.4" stroke-width="0.8" opacity="0.4"/>
<path d="M149.6,515.7 v-1.4" stroke-width="0.8" opacity="0.4"/>
<path d="M155.0,515.7 v-1.4" stroke-width="0.8" opacity="0.4"/>
<path d="M160.4,515.7 v-1.4" stroke-width="0.8" opacity="0.4"/>
<path d="M165.8,515.7 v-5.2" stroke-width="1.4" opacity="1"/>
<path d="M171.2,515.7 v-1.4" stroke-width="0.8" opacity="0.4"/>
<path d="M176.6,515.7 v-1.4" stroke-width="0.8" opacity="0.4"/>
<path d="M182.0,515.7 v-1.4" stroke-width="0.8" opacity="0.4"/>
<path d="M187.5,515.7 v-1.4" stroke-width="0.8" opacity="0.4"/>
<path d="M192.9,515.7 v-5.2" stroke-width="1.4" opacity="1"/>
<path d="M198.3,515.7 v-1.4" stroke-width="0.8" opacity="0.4"/>
<path d="M203.7,515.7 v-1.4" stroke-width="0.8" opacity="0.4"/>
<path d="M209.1,515.7 v-1.4" stroke-width="0.8" opacity="0.4"/>
<path d="M214.5,515.7 v-1.4" stroke-width="0.8" opacity="0.4"/>
<path d="M219.9,515.7 v-5.2" stroke-width="1.4" opacity="1"/>
<path d="M225.3,515.7 v-1.4" stroke-width="0.8" opacity="0.4"/>
<path d="M230.8,515.7 v-1.4" stroke-width="0.8" opacity="0.4"/>
<path d="M236.2,515.7 v-1.4" stroke-width="0.8" opacity="0.4"/>
<path d="M241.6,515.7 v-1.4" stroke-width="0.8" opacity="0.4"/>
<path d="M247.0,515.7 v-5.2" stroke-width="1.4" opacity="1"/>
<path d="M30.5,515.7 h5.2" stroke-width="1.4" opacity="1"/>
<path d="M30.5,506.9 h1.4" stroke-width="1" opacity="0.35"/>
<path d="M30.5,498.1 h1.4" stroke-width="1" opacity="0.35"/>
<path d="M30.5,489.4 h1.4" stroke-width="1" opacity="0.35"/>
<path d="M30.5,480.6 h1.4" stroke-width="1" opacity="0.35"/>
<path d="M30.5,471.8 h5.2" stroke-width="1.4" opacity="1"/>
<path d="M30.5,463.0 h1.4" stroke-width="1" opacity="0.35"/>
<path d="M30.5,454.2 h1.4" stroke-width="1" opacity="0.35"/>
<path d="M30.5,445.5 h1.4" stroke-width="1" opacity="0.35"/>
<path d="M30.5,436.7 h1.4" stroke-width="1" opacity="0.35"/>
<path d="M30.5,427.9 h5.2" stroke-width="1.4" opacity="1"/>
<path d="M30.5,419.1 h1.4" stroke-width="1" opacity="0.35"/>
<path d="M30.5,410.3 h1.4" stroke-width="1" opacity="0.35"/>
<path d="M30.5,401.6 h1.4" stroke-width="1" opacity="0.35"/>
<path d="M30.5,392.8 h1.4" stroke-width="1" opacity="0.35"/>
<path d="M30.5,384.0 h5.2" stroke-width="1.4" opacity="1"/>
<path d="M30.5,375.2 h1.4" stroke-width="1" opacity="0.35"/>
<path d="M30.5,366.4 h1.4" stroke-width="1" opacity="0.35"/>
<path d="M30.5,357.7 h1.4" stroke-width="1" opacity="0.35"/>
<path d="M30.5,348.9 h1.4" stroke-width="1" opacity="0.35"/>
<path d="M30.5,340.1 h5.2" stroke-width="1.4" opacity="1"/>
<path d="M30.5,331.3 h1.4" stroke-width="1" opacity="0.35"/>
<path d="M30.5,322.5 h1.4" stroke-width="1" opacity="0.35"/>
<path d="M30.5,313.8 h1.4" stroke-width="1" opacity="0.35"/>
<path d="M30.5,305.0 h1.4" stroke-width="1" opacity="0.35"/>
<path d="M30.5,296.2 h5.2" stroke-width="1.4" opacity="1"/>
</g>
<g font-family="'Liberation Sans',sans-serif" font-size="8.2" letter-spacing="-0.45" fill="#666">
<text x="30.5" y="525.1" text-anchor="middle">0</text>
<text x="57.6" y="525.1" text-anchor="middle">5</text>
<text x="84.6" y="525.1" text-anchor="middle">10</text>
<text x="111.7" y="525.1" text-anchor="middle">15</text>
<text x="138.8" y="525.1" text-anchor="middle">20</text>
<text x="165.8" y="525.1" text-anchor="middle">25</text>
<text x="192.9" y="525.1" text-anchor="middle">30</text>
<text x="219.9" y="525.1" text-anchor="middle">35</text>
<text x="247.0" y="525.1" text-anchor="middle">40</text>
<text x="28.3" y="518.0" text-anchor="end">0</text>
<text x="28.3" y="474.1" text-anchor="end">2</text>
<text x="28.3" y="430.2" text-anchor="end">4</text>
<text x="28.3" y="386.3" text-anchor="end">6</text>
<text x="28.3" y="342.4" text-anchor="end">8</text>
<text x="28.3" y="298.5" text-anchor="end">10</text>
</g>
<text x="44.2" y="314.6" font-family="'Liberation Sans',sans-serif" font-weight="bold" font-size="10.5" fill="#111">(c)</text>
<text x="134.2" y="546.2" font-family="'Liberation Sans',sans-serif" font-weight="bold" font-size="13.4" textLength="7.6" lengthAdjust="spacingAndGlyphs" fill="#111" stroke="#111" stroke-width="0.45">X</text>
<text x="6.5" y="422.2" font-family="'Liberation Sans',sans-serif" font-weight="bold" font-size="13.4" textLength="7.5" lengthAdjust="spacingAndGlyphs" fill="#111" stroke="#111" stroke-width="0.45">Y</text>
<clipPath id="clipd"><rect x="282.4" y="295.6" width="216.6" height="220.4"/></clipPath>
<rect x="282.4" y="295.6" width="216.6" height="220.4" fill="#0032ff"/>
<g clip-path="url(#clipd)">
<path d="M282.4,406.5 C284.1,406.5 289.7,405.9 292.6,406.5 C295.6,407.1 297.6,408.0 300.1,410.1 C302.6,412.2 305.2,415.3 307.7,418.9 C310.2,422.4 312.9,427.2 315.2,431.4 C317.5,435.6 319.6,439.8 321.5,444.0 C323.4,448.2 325.0,452.4 326.5,456.6 C328.0,460.8 329.4,465.1 330.3,469.1 C331.2,473.1 331.9,477.1 332.1,480.5 C332.3,483.9 332.2,486.6 331.6,489.3 C331.0,492.0 329.4,494.5 328.6,496.8 C327.8,499.1 327.1,501.2 327.0,503.1 C326.9,505.0 327.3,506.7 328.3,508.1 C329.3,509.5 330.4,510.6 332.8,511.4 C335.2,512.1 332.4,512.4 342.9,512.6 C353.4,512.8 386.9,512.8 395.7,512.8 L395.7,517.0 L282.4,517.0Z" fill="#0071ff"/>
<path d="M282.4,407.2 C283.1,407.2 285.3,407.2 286.4,407.4 C287.5,407.6 288.5,408.0 289.2,408.6 C289.9,409.2 290.4,410.1 290.7,411.0 C290.9,411.9 290.9,413.0 290.7,414.0 C290.5,415.0 290.1,415.8 289.7,417.0 C289.3,418.2 288.7,419.5 288.2,421.0 C287.7,422.5 287.3,423.8 286.9,426.0 C286.5,428.2 286.2,430.7 286.0,434.0 C285.8,437.3 285.6,441.7 285.5,446.0 C285.4,450.3 285.3,455.2 285.2,460.0 C285.1,464.8 285.1,470.0 285.1,475.0 C285.1,480.0 285.1,485.8 285.3,490.0 C285.5,494.2 285.6,497.0 286.1,500.0 C286.6,503.0 287.1,506.0 288.4,508.0 C289.7,510.0 290.9,511.2 294.0,512.0 C297.1,512.8 304.8,512.8 307.0,513.0 L307.0,517.0 L282.4,517.0Z" fill="#00aaff"/>
<rect x="282.4" y="409" width="1.7" height="108" fill="#00d0ff"/>
<path d="M282.4,386.6 L301,396.2 L292,396.6 L282.4,394.3Z" fill="#0008ff"/>
<path d="M397.6,515.6 C398.2,513.9 399.9,509.4 401.4,505.6 C402.9,501.8 404.5,497.6 406.4,493.0 C408.3,488.4 410.4,483.3 412.7,477.9 C415.0,472.4 417.8,465.5 420.3,460.3 C422.8,455.1 425.1,450.5 427.8,446.5 C430.5,442.5 433.7,439.0 436.6,436.5 C439.5,434.0 442.5,432.4 445.4,431.4 C448.3,430.3 451.3,430.1 454.2,430.2 C457.1,430.3 460.1,430.6 463.0,431.9 C465.9,433.1 468.9,435.3 471.8,437.7 C474.7,440.1 477.7,443.1 480.6,446.5 C483.5,449.9 486.6,454.4 489.4,457.8 C492.2,461.2 495.8,464.8 497.5,466.6 C499.2,468.4 499.2,468.3 499.5,468.6 L499.5,517.0 L397.6,517.0Z" fill="#0071ff"/>
<path d="M400.1,515.6 C401.0,513.1 403.3,505.8 405.2,500.6 C407.1,495.4 409.2,489.9 411.5,484.2 C413.8,478.5 416.7,471.4 419.0,466.6 C421.3,461.8 423.0,458.7 425.3,455.3 C427.6,451.9 430.1,448.6 432.8,446.5 C435.5,444.4 438.7,443.2 441.6,442.7 C444.5,442.1 447.5,442.3 450.4,443.2 C453.3,444.1 456.5,445.6 459.2,447.8 C461.9,450.0 464.7,453.2 466.8,456.6 C468.9,460.0 470.3,463.9 471.8,467.9 C473.3,471.9 474.6,476.3 475.6,480.5 C476.7,484.7 477.1,489.2 478.1,493.0 C479.2,496.8 480.2,500.6 481.9,503.1 C483.6,505.6 485.6,507.0 488.2,508.1 C490.8,509.2 495.6,509.6 497.5,509.9 C499.4,510.2 499.2,510.0 499.5,510.0 L499.5,517.0 L400.1,517.0Z" fill="#00aaff"/>
<path d="M402.7,515.6 C403.5,512.9 405.8,504.7 407.7,499.3 C409.6,493.9 411.9,488.0 414.0,483.0 C416.1,478.0 418.2,472.9 420.3,469.1 C422.4,465.3 424.4,462.5 426.5,460.3 C428.6,458.1 431.1,456.6 432.8,456.1 C434.5,455.6 435.8,456.2 436.6,457.3 C437.5,458.4 437.9,460.3 437.9,462.9 C437.9,465.5 437.0,469.5 436.6,472.9 C436.2,476.2 435.4,479.6 435.3,483.0 C435.2,486.4 435.5,489.9 436.1,493.0 C436.7,496.1 437.6,499.3 439.1,501.8 C440.7,504.3 442.2,506.6 445.4,508.1 C448.5,509.7 449.0,510.3 458.0,511.1 C467.0,511.9 492.6,512.5 499.5,512.8 L499.5,517.0 L402.7,517.0Z" fill="#00e3ff"/>
<rect x="282.4" y="513.0" width="216.6" height="3" fill="#00aaff"/>
<rect x="282.4" y="514.3" width="216.6" height="1.6" fill="#00e3ff"/>
<path d="M282.4,486.0 C282.8,488.2 284.2,495.6 285.1,499.5 C286.0,503.4 286.6,506.6 287.6,509.4 C288.7,512.1 290.8,514.9 291.4,516.0 L282.4,516.0Z" fill="#00e3ff"/>
<path d="M282.4,492.0 C282.8,493.8 284.0,499.7 284.8,502.8 C285.6,505.9 286.1,508.5 287.0,510.7 C288.0,512.9 289.8,515.1 290.4,516.0 L282.4,516.0Z" fill="#00ffaa"/>
<path d="M282.4,496.5 C282.8,498.0 283.9,502.7 284.6,505.3 C285.3,507.8 285.7,509.9 286.6,511.7 C287.4,513.5 289.1,515.3 289.6,516.0 L282.4,516.0Z" fill="#00ff00"/>
<path d="M282.4,501.0 C282.7,502.1 283.7,505.8 284.3,507.8 C284.9,509.7 285.4,511.3 286.1,512.7 C286.9,514.1 288.4,515.5 288.8,516.0 L282.4,516.0Z" fill="#e3ff00"/>
<path d="M282.4,504.0 C282.7,504.9 283.6,507.8 284.1,509.4 C284.7,511.0 285.1,512.3 285.8,513.4 C286.4,514.5 287.8,515.6 288.2,516.0 L282.4,516.0Z" fill="#ff7100"/>
<path d="M282.4,507.0 C282.7,507.7 283.5,509.9 284.0,511.1 C284.5,512.2 284.8,513.2 285.4,514.0 C286.0,514.8 287.2,515.7 287.6,516.0 L282.4,516.0Z" fill="#ff0000"/>
<path d="M400.3,516.0 C400.6,515.2 401.7,513.1 402.3,511.2 C402.9,509.3 403.4,506.7 403.9,504.4 C404.4,502.2 404.8,499.8 405.5,497.7 C406.2,495.6 406.8,493.6 408.1,491.8 C409.3,490.0 411.6,488.7 413.0,486.8 C414.4,484.9 415.4,482.5 416.4,480.5 C417.5,478.5 418.6,475.9 419.2,474.8 C419.9,473.7 420.1,473.6 420.4,473.8 C420.8,474.0 421.1,474.9 421.2,475.8 C421.3,476.7 421.3,477.3 421.0,479.2 C420.8,481.1 420.1,484.4 419.8,487.3 C419.5,490.2 419.1,493.9 419.2,496.7 C419.3,499.6 419.8,502.1 420.4,504.5 C421.1,506.9 422.0,509.5 423.3,511.1 C424.7,512.7 426.5,513.6 428.5,514.3 C430.5,515.0 432.5,514.9 435.4,515.2 C438.3,515.5 444.2,515.9 446.0,516.0Z" fill="#00ffe3"/>
<path d="M401.3,516.0 C401.5,515.3 402.4,513.4 402.9,511.7 C403.3,510.0 403.7,507.8 404.1,505.9 C404.5,504.0 404.9,501.9 405.3,500.1 C405.6,498.3 405.9,496.5 406.4,494.8 C406.8,493.1 407.3,491.8 408.1,490.0 C408.8,488.2 410.0,485.3 411.0,484.2 C411.9,483.1 412.9,482.5 413.6,483.2 C414.3,483.9 414.8,486.0 415.2,488.3 C415.5,490.6 415.4,494.0 415.8,496.7 C416.1,499.5 416.5,502.5 417.3,504.9 C418.1,507.4 419.1,509.8 420.5,511.4 C422.0,513.0 423.6,513.7 426.0,514.5 C428.5,515.2 433.5,515.7 435.0,516.0Z" fill="#00ff71"/>
<path d="M402.1,516.0 C402.3,515.4 403.0,513.8 403.4,512.1 C403.8,510.5 404.2,508.3 404.5,506.4 C404.9,504.4 405.3,502.4 405.7,500.6 C406.0,498.7 406.2,496.9 406.7,495.3 C407.2,493.7 407.7,492.3 408.5,490.8 C409.2,489.3 410.2,487.2 411.0,486.3 C411.8,485.4 412.6,485.0 413.2,485.5 C413.8,486.0 414.2,487.4 414.5,489.3 C414.8,491.2 414.8,494.1 415.1,496.7 C415.4,499.3 415.7,502.4 416.4,504.9 C417.2,507.4 418.2,510.0 419.5,511.7 C420.8,513.3 422.3,514.0 424.3,514.7 C426.4,515.5 430.4,515.8 431.6,516.0Z" fill="#00ff00"/>
<path d="M406.9,496.2 C407.0,495.7 407.0,493.5 407.5,492.8 C408.0,492.1 409.1,491.8 409.9,491.8 C410.7,491.8 412.0,491.9 412.5,492.6 C413.1,493.3 412.9,493.8 413.2,495.8 C413.6,497.7 413.9,501.8 414.6,504.4 C415.3,507.1 416.0,509.7 417.4,511.7 C418.7,513.6 421.8,515.3 422.6,516.0 L406.9,516.0Z" fill="#e3ff00"/>
<path d="M408.5,494.8 C408.7,494.5 409.4,493.0 409.9,493.0 C410.4,493.0 411.1,494.5 411.3,494.8Z" fill="#ffaa00"/>
<path d="M412.5,498.7 C412.7,499.8 413.2,503.2 413.9,505.4 C414.5,507.6 415.3,510.4 416.4,512.1 C417.6,513.9 420.2,515.4 420.9,516.0 L412.5,516.0Z" fill="#ff7100"/>
<path d="M412.5,501.1 C412.7,501.9 412.9,504.4 413.4,506.4 C413.9,508.3 414.4,511.0 415.4,512.6 C416.4,514.2 418.6,515.4 419.2,516.0 L412.5,516.0Z" fill="#ff0000"/>
<path d="M402.3,516.0 L407.1,511.8 L407.1,516.0 Z" fill="#aaff00"/>
<path d="M402.6,516.0 L404.5,513.8 L404.5,516.0 Z" fill="#ff3900"/>
<rect x="407.1" y="494.8" width="5.6" height="21.5" fill="#fff"/>
</g>
<g stroke="#111" fill="none">
<rect x="282.4" y="295.6" width="216.6" height="220.4" stroke-width="1.1"/>
<path d="M281.8,516.0 H499.6" stroke-width="1.45"/>
<path d="M281.8,295.6 H499.6" stroke-width="1.6"/>
<path d="M282.4,516.0 v-5.2" stroke-width="1.4" opacity="1"/>
<path d="M287.8,516.0 v-1.4" stroke-width="0.8" opacity="0.4"/>
<path d="M293.2,516.0 v-1.4" stroke-width="0.8" opacity="0.4"/>
<path d="M298.6,516.0 v-1.4" stroke-width="0.8" opacity="0.4"/>
<path d="M304.1,516.0 v-1.4" stroke-width="0.8" opacity="0.4"/>
<path d="M309.5,516.0 v-5.2" stroke-width="1.4" opacity="1"/>
<path d="M314.9,516.0 v-1.4" stroke-width="0.8" opacity="0.4"/>
<path d="M320.3,516.0 v-1.4" stroke-width="0.8" opacity="0.4"/>
<path d="M325.7,516.0 v-1.4" stroke-width="0.8" opacity="0.4"/>
<path d="M331.1,516.0 v-1.4" stroke-width="0.8" opacity="0.4"/>
<path d="M336.5,516.0 v-5.2" stroke-width="1.4" opacity="1"/>
<path d="M342.0,516.0 v-1.4" stroke-width="0.8" opacity="0.4"/>
<path d="M347.4,516.0 v-1.4" stroke-width="0.8" opacity="0.4"/>
<path d="M352.8,516.0 v-1.4" stroke-width="0.8" opacity="0.4"/>
<path d="M358.2,516.0 v-1.4" stroke-width="0.8" opacity="0.4"/>
<path d="M363.6,516.0 v-5.2" stroke-width="1.4" opacity="1"/>
<path d="M369.0,516.0 v-1.4" stroke-width="0.8" opacity="0.4"/>
<path d="M374.5,516.0 v-1.4" stroke-width="0.8" opacity="0.4"/>
<path d="M379.9,516.0 v-1.4" stroke-width="0.8" opacity="0.4"/>
<path d="M385.3,516.0 v-1.4" stroke-width="0.8" opacity="0.4"/>
<path d="M390.7,516.0 v-5.2" stroke-width="1.4" opacity="1"/>
<path d="M396.1,516.0 v-1.4" stroke-width="0.8" opacity="0.4"/>
<path d="M401.5,516.0 v-1.4" stroke-width="0.8" opacity="0.4"/>
<path d="M406.9,516.0 v-1.4" stroke-width="0.8" opacity="0.4"/>
<path d="M412.4,516.0 v-1.4" stroke-width="0.8" opacity="0.4"/>
<path d="M417.8,516.0 v-5.2" stroke-width="1.4" opacity="1"/>
<path d="M423.2,516.0 v-1.4" stroke-width="0.8" opacity="0.4"/>
<path d="M428.6,516.0 v-1.4" stroke-width="0.8" opacity="0.4"/>
<path d="M434.0,516.0 v-1.4" stroke-width="0.8" opacity="0.4"/>
<path d="M439.4,516.0 v-1.4" stroke-width="0.8" opacity="0.4"/>
<path d="M444.9,516.0 v-5.2" stroke-width="1.4" opacity="1"/>
<path d="M450.3,516.0 v-1.4" stroke-width="0.8" opacity="0.4"/>
<path d="M455.7,516.0 v-1.4" stroke-width="0.8" opacity="0.4"/>
<path d="M461.1,516.0 v-1.4" stroke-width="0.8" opacity="0.4"/>
<path d="M466.5,516.0 v-1.4" stroke-width="0.8" opacity="0.4"/>
<path d="M471.9,516.0 v-5.2" stroke-width="1.4" opacity="1"/>
<path d="M477.3,516.0 v-1.4" stroke-width="0.8" opacity="0.4"/>
<path d="M482.8,516.0 v-1.4" stroke-width="0.8" opacity="0.4"/>
<path d="M488.2,516.0 v-1.4" stroke-width="0.8" opacity="0.4"/>
<path d="M493.6,516.0 v-1.4" stroke-width="0.8" opacity="0.4"/>
<path d="M499.0,516.0 v-5.2" stroke-width="1.4" opacity="1"/>
<path d="M282.4,516.0 h5.2" stroke-width="1.4" opacity="1"/>
<path d="M282.4,507.2 h1.4" stroke-width="1" opacity="0.35"/>
<path d="M282.4,498.4 h1.4" stroke-width="1" opacity="0.35"/>
<path d="M282.4,489.6 h1.4" stroke-width="1" opacity="0.35"/>
<path d="M282.4,480.7 h1.4" stroke-width="1" opacity="0.35"/>
<path d="M282.4,471.9 h5.2" stroke-width="1.4" opacity="1"/>
<path d="M282.4,463.1 h1.4" stroke-width="1" opacity="0.35"/>
<path d="M282.4,454.3 h1.4" stroke-width="1" opacity="0.35"/>
<path d="M282.4,445.5 h1.4" stroke-width="1" opacity="0.35"/>
<path d="M282.4,436.7 h1.4" stroke-width="1" opacity="0.35"/>
<path d="M282.4,427.8 h5.2" stroke-width="1.4" opacity="1"/>
<path d="M282.4,419.0 h1.4" stroke-width="1" opacity="0.35"/>
<path d="M282.4,410.2 h1.4" stroke-width="1" opacity="0.35"/>
<path d="M282.4,401.4 h1.4" stroke-width="1" opacity="0.35"/>
<path d="M282.4,392.6 h1.4" stroke-width="1" opacity="0.35"/>
<path d="M282.4,383.8 h5.2" stroke-width="1.4" opacity="1"/>
<path d="M282.4,374.9 h1.4" stroke-width="1" opacity="0.35"/>
<path d="M282.4,366.1 h1.4" stroke-width="1" opacity="0.35"/>
<path d="M282.4,357.3 h1.4" stroke-width="1" opacity="0.35"/>
<path d="M282.4,348.5 h1.4" stroke-width="1" opacity="0.35"/>
<path d="M282.4,339.7 h5.2" stroke-width="1.4" opacity="1"/>
<path d="M282.4,330.9 h1.4" stroke-width="1" opacity="0.35"/>
<path d="M282.4,322.0 h1.4" stroke-width="1" opacity="0.35"/>
<path d="M282.4,313.2 h1.4" stroke-width="1" opacity="0.35"/>
<path d="M282.4,304.4 h1.4" stroke-width="1" opacity="0.35"/>
<path d="M282.4,295.6 h5.2" stroke-width="1.4" opacity="1"/>
</g>
<g font-family="'Liberation Sans',sans-serif" font-size="8.2" letter-spacing="-0.45" fill="#666">
<text x="282.4" y="525.4" text-anchor="middle">0</text>
<text x="309.5" y="525.4" text-anchor="middle">5</text>
<text x="336.5" y="525.4" text-anchor="middle">10</text>
<text x="363.6" y="525.4" text-anchor="middle">15</text>
<text x="390.7" y="525.4" text-anchor="middle">20</text>
<text x="417.8" y="525.4" text-anchor="middle">25</text>
<text x="444.9" y="525.4" text-anchor="middle">30</text>
<text x="471.9" y="525.4" text-anchor="middle">35</text>
<text x="499.0" y="525.4" text-anchor="middle">40</text>
<text x="280.2" y="518.3" text-anchor="end">0</text>
<text x="280.2" y="474.2" text-anchor="end">2</text>
<text x="280.2" y="430.1" text-anchor="end">4</text>
<text x="280.2" y="386.1" text-anchor="end">6</text>
<text x="280.2" y="342.0" text-anchor="end">8</text>
<text x="280.2" y="297.9" text-anchor="end">10</text>
</g>
<text x="300.0" y="314.6" font-family="'Liberation Sans',sans-serif" font-weight="bold" font-size="10.5" fill="#111">(d)</text>
<text x="392.2" y="546.2" font-family="'Liberation Sans',sans-serif" font-weight="bold" font-size="13.4" textLength="7.6" lengthAdjust="spacingAndGlyphs" fill="#111" stroke="#111" stroke-width="0.45">X</text>
<text x="254.9" y="426.4" font-family="'Liberation Sans',sans-serif" font-weight="bold" font-size="13.4" textLength="7.5" lengthAdjust="spacingAndGlyphs" fill="#111" stroke="#111" stroke-width="0.45">Y</text>
</svg>
</body></html>
